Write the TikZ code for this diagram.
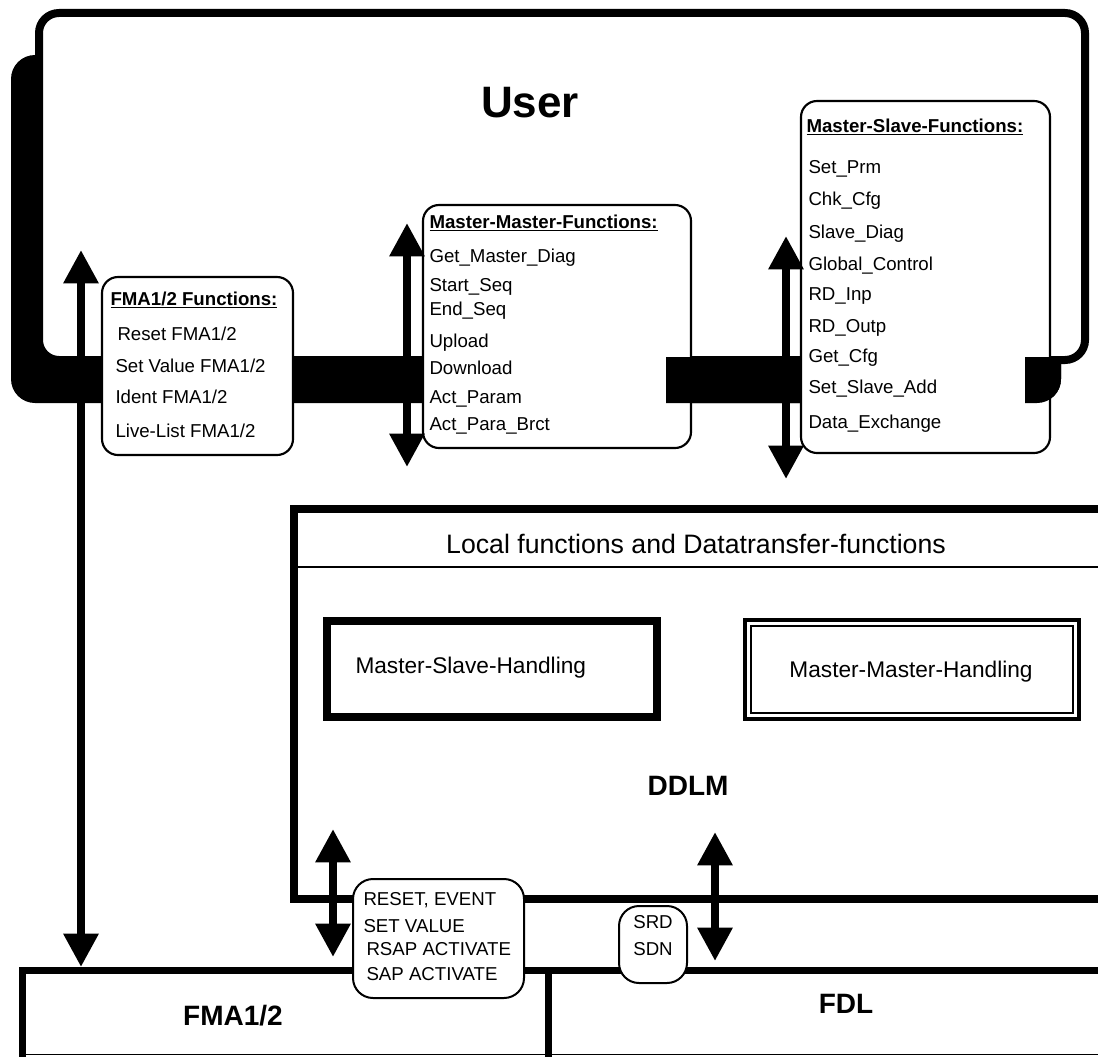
\documentclass[tikz,border=0pt]{standalone}
\usepackage{fontspec}
\setmainfont{Liberation Sans}
\usetikzlibrary{arrows.meta,fit}

\tikzset{every picture/.style={line width=0.75pt}}
\tikzset{
  fnbox/.style={draw, fill=white, line width=1.6pt, rounded corners=12pt, inner sep=0pt},
  handbox/.style={draw, fill=white, line width=5.6pt, inner sep=0pt},
  updown/.style={line width=6pt, >={Triangle[length=25pt,width=25pt]}, <->},
  fnitem/.style={anchor=base west, inner sep=0pt, font=\fontsize{14}{16}\selectfont},
  fnhead/.style={fnitem, font=\fontsize{14}{16}\selectfont\bfseries},
  layername/.style={anchor=base, inner sep=0pt, font=\fontsize{21}{24}\selectfont\bfseries}
}

\begin{document}
\begin{tikzpicture}[x=0.75pt,y=0.75pt,yscale=-1,xscale=1]
\useasboundingbox (0,0) rectangle (1098,1056);

%Shape: User shadow
\fill[rounded corners=18pt] (11,55) rectangle (1061,403);
%Shape: User frame
\node[draw, fill=white, line width=6pt, rounded corners=15pt, inner sep=0pt, fit={(39,13) (1085,360)}] (user) {};
% Text Node
\node[anchor=base, inner sep=0pt, font=\fontsize{33}{36}\selectfont\bfseries] (userT) at (530,117) {User};

%Shape: function boxes
\node[fnbox, fit={(102,277) (293,455)}] (fmafn) {};
\node[fnbox, fit={(423,205) (691,448)}] (mmfn) {};
\node[fnbox, fit={(801,101) (1050,453)}] (msfn) {};

%Shape: shadow band lying over the right box edges
\begin{scope}
\clip (666,357) rectangle (800,410) (1025,357) rectangle (1100,410);
\fill[rounded corners=18pt] (11,55) rectangle (1061,403);
\end{scope}

% FMA1/2 functions
\node[fnhead] (fma0) at (110,305) {\underline{FMA1/2 Functions:}};
\node[fnitem] (fma1) at (117,340) {Reset FMA1/2};
\node[fnitem] (fma2) at (115,372) {Set Value FMA1/2};
\node[fnitem] (fma3) at (115,403) {Ident FMA1/2};
\node[fnitem] (fma4) at (115,437) {Live-List FMA1/2};

% Master-Master functions
\node[fnhead] (mm0) at (429,228) {\underline{Master-Master-Functions:}};
\node[fnitem] (mm1) at (429,262) {Get\_Master\_Diag};
\node[fnitem] (mm2) at (429,291) {Start\_Seq};
\node[fnitem] (mm3) at (429,315) {End\_Seq};
\node[fnitem] (mm4) at (429,347) {Upload};
\node[fnitem] (mm5) at (429,374) {Download};
\node[fnitem] (mm6) at (429,403) {Act\_Param};
\node[fnitem] (mm7) at (429,430) {Act\_Para\_Brct};

% Master-Slave functions
\node[fnhead] (ms0) at (806,132) {\underline{Master-Slave-Functions:}};
\node[fnitem] (ms1) at (808,173) {Set\_Prm};
\node[fnitem] (ms2) at (808,205) {Chk\_Cfg};
\node[fnitem] (ms3) at (808,238) {Slave\_Diag};
\node[fnitem] (ms4) at (808,270) {Global\_Control};
\node[fnitem] (ms5) at (808,300) {RD\_Inp};
\node[fnitem] (ms6) at (808,332) {RD\_Outp};
\node[fnitem] (ms7) at (808,362) {Get\_Cfg};
\node[fnitem] (ms8) at (808,393) {Set\_Slave\_Add};
\node[fnitem] (ms9) at (808,428) {Data\_Exchange};

%Shape: DDLM frame
\draw[line width=6pt] (1104,509) -- (294,509) -- (294,899) -- (1104,899);
\draw[line width=1.5pt] (294,567) -- (1104,567);
% Text Node
\node[anchor=base, inner sep=0pt, font=\fontsize{20}{24}\selectfont] (localT) at (696,553) {Local functions and Datatransfer-functions};

%Shape: handling boxes
\node[handbox, fit={(327,621) (657,717)}] (mshand) {};
\node[handbox, line width=3.5pt, fit={(745,620) (1079,719)}] (mmhand) {};
\draw[line width=0.9pt] (751,626) rectangle (1073,713);
\node[anchor=base west, inner sep=0pt, font=\fontsize{17}{20}\selectfont] (mshandT) at (355,673) {Master-Slave-Handling};
\node[anchor=base, inner sep=0pt, font=\fontsize{17}{20}\selectfont] (mmhandT) at (911,677) {Master-Master-Handling};
\node[layername] (ddlmT) at (688,795) {DDLM};

%Shape: FMA1/2 and FDL layers
\draw[line width=5.25pt] (22,1060) -- (22,970) -- (1104,970);
\draw[line width=5.25pt] (548,970) -- (548,1060);
\draw[line width=0.8pt] (22,1054.5) -- (1104,1054.5);
\node[layername] (fmaT) at (233,1025) {FMA1/2};
\node[layername] (fdlT) at (846,1013) {FDL};

%Shape: service boxes
\node[fnbox, line width=1.5pt, rounded corners=15pt, fit={(353,879) (524,998)}] (sapbox) {};
\node[fnitem] (sap1) at (363,905) {RESET, EVENT};
\node[fnitem] (sap2) at (363,932) {SET VALUE};
\node[fnitem] (sap3) at (366,955) {RSAP ACTIVATE};
\node[fnitem] (sap4) at (366,980) {SAP ACTIVATE};
\node[fnbox, line width=1.5pt, rounded corners=15pt, fit={(619,906) (687,983)}] (srdbox) {};
\node[fnitem, anchor=base] (srd1) at (653,928) {SRD};
\node[fnitem, anchor=base] (srd2) at (653,955) {SDN};

% arrow ends
\coordinate (fmaUp) at (81,250);
\coordinate (fmaDn) at (81,967);
\coordinate (mmUp) at (407,223);
\coordinate (mmDn) at (407,467);
\coordinate (msUp) at (786,236);
\coordinate (msDn) at (786,479);
\coordinate (ddlmFmaUp) at (333,829);
\coordinate (ddlmFmaDn) at (333,957);
\coordinate (ddlmFdlUp) at (715,832);
\coordinate (ddlmFdlDn) at (715,961);

%Straight Lines: double arrows
\draw[updown] (fmaUp) -- (fmaDn);
\draw[updown] (mmUp) -- (mmDn);
\draw[updown] (msUp) -- (msDn);
\draw[updown] (ddlmFmaUp) -- (ddlmFmaDn);
\draw[updown] (ddlmFdlUp) -- (ddlmFdlDn);

\end{tikzpicture}
\end{document}
